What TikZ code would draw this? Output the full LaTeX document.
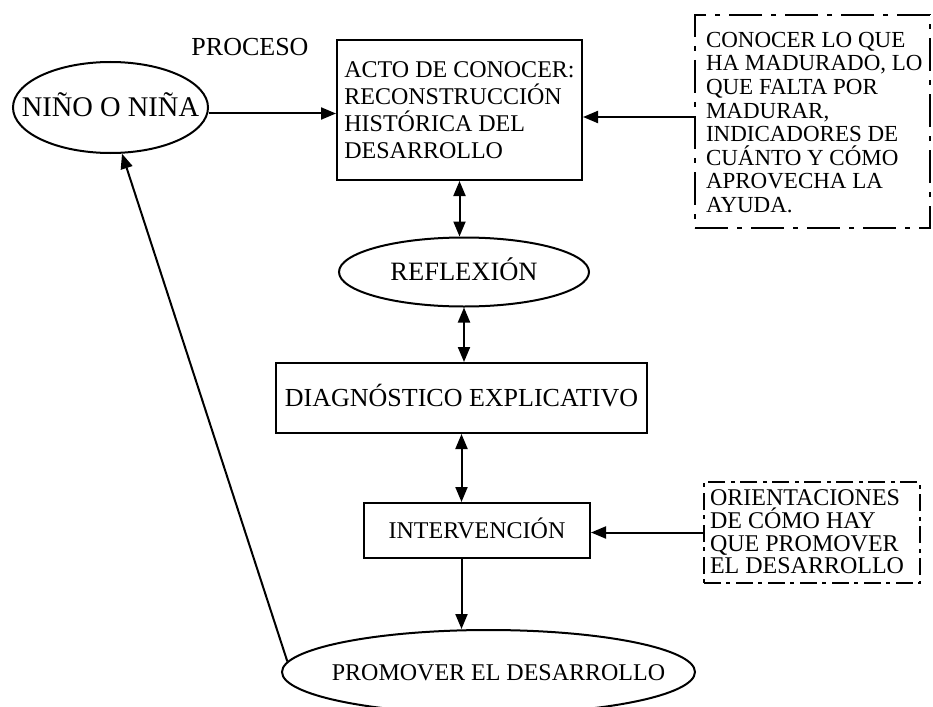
\documentclass[tikz,border=0pt]{standalone}
\usepackage{fontspec}
\setmainfont{Liberation Serif}
\usetikzlibrary{arrows.meta,shapes.geometric,fit}

\begin{document}
\begin{tikzpicture}[x=1pt, y=-1pt, line width=2pt,
    >={Triangle[length=15pt,width=12pt]},
    every node/.style={font=\fontsize{24}{23.6}\selectfont, inner sep=0pt},
    every edge/.append style={line width=2pt},
    sz/.style={font=\fontsize{#1}{#1}\selectfont},
    oneline/.style={text height=16pt, text depth=0pt},
    oval/.style={draw, ellipse, oneline,
        execute at begin node={\hbox to 0pt\bgroup\hss},
        execute at end node={\hss\egroup}},
    block/.style={draw, rectangle},
    note/.style={draw, dash pattern=on 33pt off 9pt on 5pt off 9pt},
    smallnote/.style={draw, dash pattern=on 17pt off 5pt on 4pt off 6pt}]

    \useasboundingbox (0,0) rectangle (933,706);

    \node[oneline, sz=26, text height=17pt] (proceso) at (250,47) {PROCESO};
    \node[oval, sz=28.5, text height=19pt, minimum width=195pt, minimum height=91pt] (nino) at (110.5,107.5) {NIÑO O NIÑA};
    \node[block, align=left, inner xsep=7pt, minimum width=245pt, minimum height=140pt,
          font=\fontsize{24}{27}\selectfont] (acto) at (459.5,110)
          {ACTO DE CONOCER:\\RECONSTRUCCIÓN\\HISTÓRICA DEL\\DESARROLLO};
    \node[oval, sz=26.5, text height=17.5pt, minimum width=250pt, minimum height=69pt] (refl) at (464,272) {REFLEXIÓN};
    \node[block, oneline, sz=26, text height=17pt, minimum width=371pt, minimum height=70pt] (diag) at (461.5,398) {DIAGNÓSTICO EXPLICATIVO};
    \node[block, oneline, minimum width=226pt, minimum height=55pt] (interv) at (477,530.5) {INTERVENCIÓN};
    \node[oval, minimum width=413pt, minimum height=84pt] (promover) at (488.5,672) {\hspace*{20pt}PROMOVER EL DESARROLLO};

    % dashed notes on the right
    \node[align=left, anchor=north west, font=\fontsize{23}{23.6}\selectfont] (obstxt) at (705,31)
          {CONOCER LO QUE\\HA MADURADO, LO\\QUE FALTA POR\\MADURAR,\\INDICADORES DE\\CUÁNTO Y CÓMO\\APROVECHA LA\\AYUDA.};
    \node[note, fit={(695,15) (930,228)}] (obsbox) {};
    \node[align=left, anchor=north west, font=\fontsize{24}{22.7}\selectfont] (orienttxt) at (709,489)
          {ORIENTACIONES\\DE CÓMO HAY\\QUE PROMOVER\\EL DESARROLLO};
    \node[smallnote, fit={(704,482) (920,583)}] (orientbox) {};

    \path[->]
        ([yshift=-6pt]nino.east) edge ([yshift=-6pt]nino.east -| acto.west)
        ([yshift=4.5pt]obsbox.west) edge ([yshift=4.5pt]obsbox.west -| acto.east)
        (orientbox.west) edge (orientbox.west -| interv.east)
        (interv.south -| diag.south) edge (diag.south |- promover.north)
        (promover.177) edge (nino.284);
    \path[<->]
        (acto.south) edge (acto.south |- refl.north)
        (refl.south) edge (refl.south |- diag.north)
        (diag.south) edge (diag.south |- interv.north);
\end{tikzpicture}
\end{document}
